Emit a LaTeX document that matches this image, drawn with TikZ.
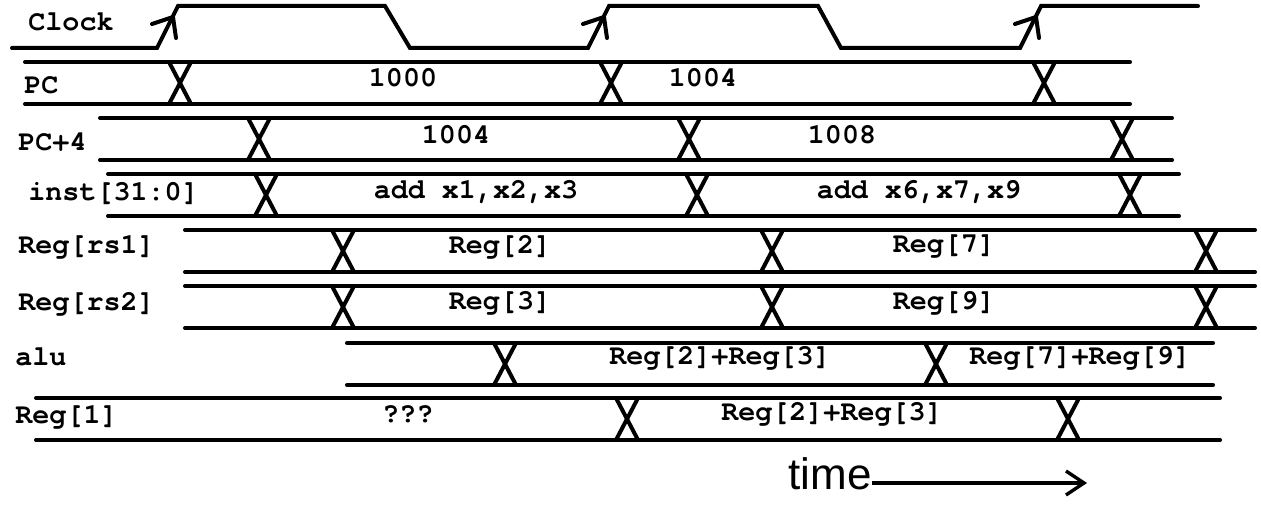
\documentclass[tikz,border=0pt]{standalone}
\usepackage{fontspec}
\setmonofont{TeX Gyre Cursor}
\setsansfont{Liberation Sans}
\usetikzlibrary{arrows.meta}
\tikzset{
  rail/.style={line width=2pt, line cap=round, line join=miter},
  sig/.style={font=\ttfamily\bfseries\fontsize{14.2}{15}\selectfont, anchor=west, inner sep=0pt},
  val/.style={font=\ttfamily\bfseries\fontsize{14.2}{15}\selectfont, inner sep=0pt},
  tarrow/.style={-{Straight Barb[length=9pt,width=12pt]}, line width=1.7pt},
}

\begin{document}
\begin{tikzpicture}[x=0.5pt, y=-0.5pt]
  \useasboundingbox (0,0) rectangle (1261,507);
  % clock
  \draw[rail] (12,48) -- (157,48) -- (178,6) -- (385,6) -- (410,48) -- (588,48) -- (609,6)
    -- (818,6) -- (841,48) -- (1020,48) -- (1041,6) -- (1198,6);
  \foreach \r in {157,588,1020}
    \draw[rail] (\r-5,24) -- (\r+16,17) -- (\r+19,38);
  % bus rails
  \foreach \t/\xl/\xr in {62/25/1130, 118/100/1172, 174/108/1179, 230/185/1255,
                           286/185/1255, 343/347/1213, 398/36/1220}
    \draw[rail] (\xl,\t) -- (\xr,\t) (\xl,\t+42) -- (\xr,\t+42);
  % transitions
  \foreach \t/\c in {62/180, 62/611, 62/1044, 118/259, 118/689, 118/1122,
                     174/266, 174/697, 174/1130, 230/343, 230/772, 230/1206,
                     286/343, 286/772, 286/1206, 343/505, 343/936, 398/627, 398/1068}
    \draw[rail] (\c-11,\t) -- (\c+11,\t+42) (\c+11,\t) -- (\c-11,\t+42);

  \node[sig] (lclk) at (28,22) {Clock};
  \node[sig] (lpc) at (24,85) {PC};
  \node[sig] (lpc4) at (18,142) {PC+4};
  \node[sig] (linst) at (28,194) {inst[31:0]};
  \node[sig] (lrs1) at (18,247) {Reg[rs1]};
  \node[sig] (lrs2) at (18,304) {Reg[rs2]};
  \node[sig] (lalu) at (15,357) {alu};
  \node[sig] (lreg1) at (15,417) {Reg[1]};

  \node[val] (pca) at (403,78) {1000};
  \node[val] (pcb) at (703,78) {1004};
  \node[val] (pc4a) at (456,135) {1004};
  \node[val] (pc4b) at (842,135) {1008};
  \node[val] (insta) at (476,192) {add x1,x2,x3};
  \node[val] (instb) at (919,192) {add x6,x7,x9};
  \node[val] (rs1a) at (500,247) {Reg[2]};
  \node[val] (rs1b) at (944,247) {Reg[7]};
  \node[val] (rs2a) at (500,303) {Reg[3]};
  \node[val] (rs2b) at (944,303) {Reg[9]};
  \node[val] (alua) at (720,358) {Reg[2]+Reg[3]};
  \node[val] (alub) at (1080,358) {Reg[7]+Reg[9]};
  \node[val] (reg1a) at (408,414) {???};
  \node[val] (reg1b) at (832,414) {Reg[2]+Reg[3]};

  \node[font=\sffamily\fontsize{22}{24}\selectfont, inner sep=0pt] (time) at (830,474) {time};
  \coordinate (tend) at (1087,483);
  \draw[tarrow] (time.east |- tend) -- (tend);
\end{tikzpicture}
\end{document}
